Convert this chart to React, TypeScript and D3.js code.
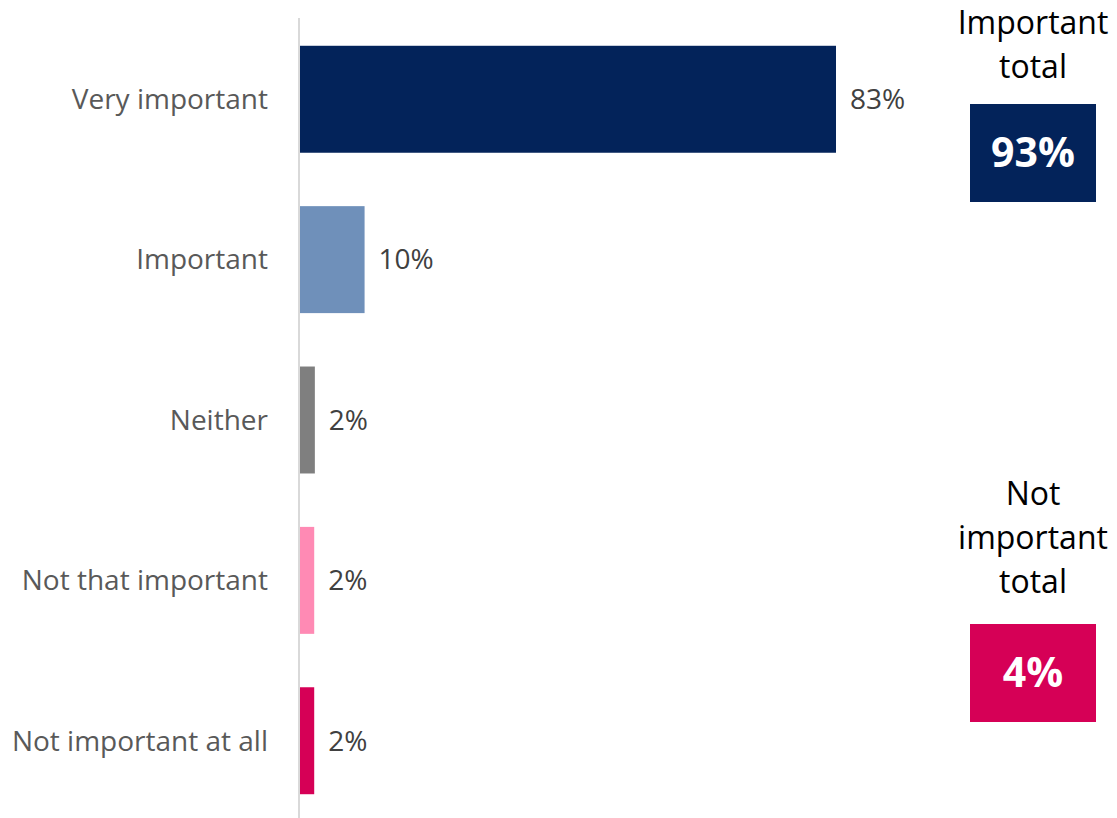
import React from "react";
import * as d3 from "d3";

const categories = ["Very important", "Important", "Neither", "Not that important", "Not important at all"];
const values = [83, 10, 2.3, 2.2, 2.2];
const valueLabels = ["83%", "10%", "2%", "2%", "2%"];
const barColors = ["#03235A", "#6F90BA", "#7F7F7F", "#FF8AB4", "#D60056"];
const totalTitles = [["Important", "total"], ["Not", "important", "total"]];
const totalValues = ["93%", "4%"];
const totalColors = ["#03235A", "#D60056"];

const W = 1117;
const H = 818;
const FONT = "Open Sans, sans-serif";

export default function App() {
  const x = d3.scaleLinear().domain([0, 83]).range([300, 836]);
  const y = d3.scaleBand<string>().domain(categories).range([19, 821]).paddingInner(0.333).paddingOuter(0.167);
  const bw = y.bandwidth();

  const boxX = 970, boxW = 126, boxH = 98;
  const boxY = [104, 624];
  const titleTop = [34, 505];
  const lineH = 44;

  return (
    <svg width={W} height={H} style={{ position: "absolute", left: 0, top: 0 }} fontFamily={FONT}>
      <rect width={W} height={H} fill="#fff" />
      <line x1={299} x2={299} y1={18} y2={818} stroke="#D9D9D9" strokeWidth={2} />
      {categories.map((c, i) => {
        const yy = y(c)!;
        return (
          <g key={c}>
            <rect x={x(0)} y={yy} width={x(values[i]) - x(0)} height={bw} fill={barColors[i]} />
            <text x={268} y={yy + bw / 2} dy="0.35em" textAnchor="end" fontSize={28} fill="#595959">{c}</text>
            <text x={x(values[i]) + 14} y={yy + bw / 2} dy="0.35em" fontSize={28} fill="#404040">{valueLabels[i]}</text>
          </g>
        );
      })}
      {totalTitles.map((lines, k) => (
        <g key={k}>
          {lines.map((ln, j) => (
            <text key={j} x={boxX + boxW / 2} y={titleTop[k] + j * lineH} textAnchor="middle" fontSize={32} fill="#000">{ln}</text>
          ))}
          <rect x={boxX} y={boxY[k]} width={boxW} height={boxH} fill={totalColors[k]} />
          <text x={boxX + boxW / 2} y={boxY[k] + boxH / 2} dy="0.35em" textAnchor="middle" fontSize={41} fontWeight="bold" fill="#fff">{totalValues[k]}</text>
        </g>
      ))}
    </svg>
  );
}
